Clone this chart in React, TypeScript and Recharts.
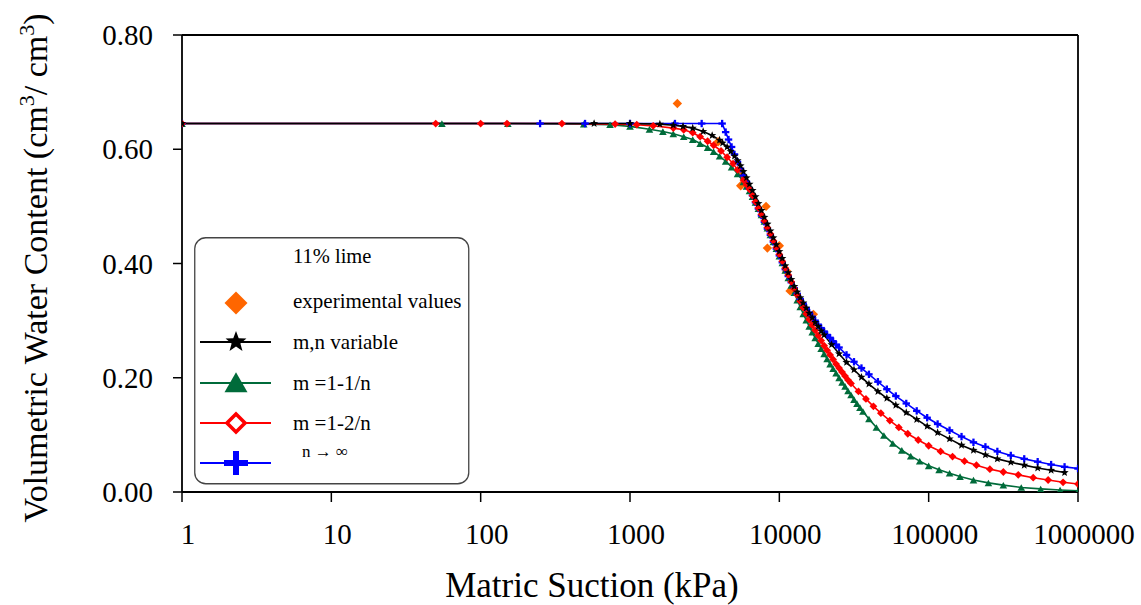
import React from 'react';
import { ComposedChart, Line, Scatter, XAxis, YAxis, ReferenceLine, Legend, Label } from 'recharts';

const FONT = '"Liberation Serif", "Times New Roman", Times, serif';

const suctionTicks = [1, 10, 100, 1000, 10000, 100000, 1000000];
const waterTicks = [0, 0.2, 0.4, 0.6, 0.8];

// measured points, 11% lime
const experimentalSuction = [2075, 3890, 5510, 5510, 8150, 8320, 10000, 11200, 11800, 16900];
const experimentalTheta = [0.68, 0.613, 0.562, 0.536, 0.5, 0.427, 0.431, 0.387, 0.352, 0.311];

// fit with m and n both free
const mnVariableSuction = [1, 575, 1000, 1585, 1950, 2265, 2630, 3090, 3550, 3980, 4170, 4470, 4730, 5010, 5250, 5500, 5750, 6030, 6310, 6610, 6920, 7240, 7590, 7940, 8320, 8710, 9120, 9550, 10000, 10470, 10960, 11480, 12020, 12590, 13180, 13800, 14450, 15140, 15850, 16600, 17380, 18200, 19050, 19950, 22390, 25120, 28180, 31620, 35480, 39810, 45710, 52480, 60260, 70790, 83180, 97720, 114800, 138000, 166000, 199500, 239900, 288400, 354800, 436500, 537000, 660700, 813000];
const mnVariableTheta = [0.645, 0.645, 0.645, 0.644, 0.642, 0.64, 0.637, 0.631, 0.624, 0.616, 0.611, 0.604, 0.596, 0.588, 0.58, 0.571, 0.561, 0.55, 0.539, 0.528, 0.517, 0.505, 0.493, 0.481, 0.469, 0.457, 0.445, 0.433, 0.421, 0.409, 0.396, 0.384, 0.372, 0.36, 0.35, 0.34, 0.331, 0.322, 0.313, 0.305, 0.297, 0.29, 0.282, 0.275, 0.258, 0.242, 0.227, 0.214, 0.201, 0.189, 0.176, 0.164, 0.152, 0.139, 0.127, 0.115, 0.104, 0.093, 0.082, 0.073, 0.065, 0.058, 0.052, 0.047, 0.042, 0.038, 0.034];

// m = 1 - 1/n
const mOneSuction = [1, 55, 152, 490, 735, 1000, 1350, 1660, 1950, 2290, 2630, 2950, 3310, 3630, 3980, 4370, 4790, 5250, 5750, 6030, 6310, 6610, 6920, 7240, 7590, 7940, 8320, 8710, 9120, 9550, 10000, 10470, 10960, 11480, 12020, 12590, 13180, 13800, 14450, 15140, 15850, 16600, 17380, 18200, 19050, 19950, 20890, 21880, 22910, 23990, 25120, 26300, 27540, 28840, 30200, 31620, 33110, 34670, 36310, 39810, 44670, 50120, 57540, 66070, 75860, 87100, 100000, 117500, 138000, 162200, 199500, 251200, 316200, 416900, 562300, 758600, 1000000];
const mOneTheta = [0.645, 0.645, 0.645, 0.644, 0.643, 0.64, 0.635, 0.631, 0.627, 0.622, 0.617, 0.61, 0.603, 0.596, 0.588, 0.579, 0.569, 0.557, 0.543, 0.535, 0.527, 0.517, 0.507, 0.496, 0.485, 0.474, 0.462, 0.45, 0.438, 0.426, 0.413, 0.401, 0.388, 0.375, 0.362, 0.349, 0.336, 0.324, 0.312, 0.301, 0.29, 0.28, 0.27, 0.26, 0.251, 0.242, 0.233, 0.224, 0.216, 0.208, 0.2, 0.192, 0.185, 0.177, 0.17, 0.162, 0.155, 0.148, 0.141, 0.128, 0.113, 0.099, 0.085, 0.073, 0.063, 0.054, 0.046, 0.039, 0.033, 0.027, 0.021, 0.016, 0.012, 0.008, 0.0055, 0.0035, 0.002];

// m = 1 - 2/n
const mTwoSuction = [1, 50, 100, 150, 350, 795, 1110, 1430, 1950, 2290, 2630, 2950, 3310, 3630, 4070, 4470, 4900, 5250, 5750, 6030, 6310, 6610, 6920, 7240, 7590, 7940, 8320, 8710, 9120, 9550, 10000, 10470, 10960, 11480, 12020, 12590, 13180, 13800, 14450, 15140, 15850, 16600, 17380, 18200, 19050, 19950, 20890, 21880, 22910, 23990, 25120, 26300, 27540, 28840, 30200, 33880, 38020, 42660, 47860, 54950, 63100, 72440, 85110, 100000, 120200, 144500, 173800, 208900, 257000, 316200, 398100, 501200, 631000, 794300, 1000000];
const mTwoTheta = [0.645, 0.645, 0.645, 0.645, 0.645, 0.644, 0.643, 0.641, 0.637, 0.634, 0.629, 0.622, 0.614, 0.607, 0.597, 0.586, 0.575, 0.564, 0.546, 0.538, 0.53, 0.519, 0.508, 0.497, 0.486, 0.475, 0.463, 0.452, 0.44, 0.428, 0.416, 0.404, 0.392, 0.38, 0.368, 0.356, 0.345, 0.334, 0.323, 0.312, 0.302, 0.292, 0.283, 0.274, 0.265, 0.256, 0.248, 0.24, 0.232, 0.224, 0.217, 0.21, 0.203, 0.196, 0.19, 0.176, 0.163, 0.15, 0.138, 0.125, 0.113, 0.102, 0.091, 0.081, 0.071, 0.062, 0.054, 0.047, 0.04, 0.035, 0.03, 0.025, 0.021, 0.017, 0.014];

// n -> infinity
const nInfSuction = [1, 250, 500, 1000, 2000, 3020, 4140, 4370, 4570, 4790, 5010, 5250, 5500, 5750, 6030, 6310, 6610, 6920, 7240, 7590, 7940, 8320, 8710, 9120, 9550, 10000, 10470, 10960, 11480, 12020, 12590, 13180, 13800, 14450, 15140, 15850, 16600, 17380, 18200, 19050, 19950, 20890, 21880, 22910, 23990, 25120, 28180, 31620, 35480, 39810, 45710, 52480, 60260, 70790, 83180, 97720, 114800, 138000, 166000, 199500, 239900, 288400, 354800, 436500, 537000, 660700, 813000, 1000000];
const nInfTheta = [0.645, 0.645, 0.645, 0.645, 0.645, 0.645, 0.645, 0.63, 0.617, 0.604, 0.591, 0.578, 0.566, 0.554, 0.543, 0.531, 0.519, 0.507, 0.496, 0.484, 0.473, 0.461, 0.45, 0.438, 0.426, 0.414, 0.402, 0.39, 0.378, 0.367, 0.357, 0.347, 0.338, 0.33, 0.322, 0.314, 0.307, 0.3, 0.293, 0.287, 0.281, 0.275, 0.27, 0.264, 0.258, 0.253, 0.24, 0.228, 0.217, 0.206, 0.193, 0.18, 0.168, 0.155, 0.142, 0.13, 0.119, 0.108, 0.097, 0.087, 0.079, 0.071, 0.064, 0.058, 0.053, 0.048, 0.044, 0.041];

const COLORS = {
  experimental: '#ff6600',
  mn: '#000000',
  mOne: '#006b3a',
  mTwo: '#ff0000',
  nInf: '#0000ff',
};

const pair = (s: number[], t: number[]) => s.map((v, i) => ({ s: v, theta: t[i] }));

const experimentalData = pair(experimentalSuction, experimentalTheta);
const mnData = pair(mnVariableSuction, mnVariableTheta);
const mOneData = pair(mOneSuction, mOneTheta);
const mTwoData = pair(mTwoSuction, mTwoTheta);
const nInfData = pair(nInfSuction, nInfTheta);

// marker shapes
function starPoints(cx: number, cy: number, R: number, r: number) {
  const pts: string[] = [];
  for (let i = 0; i < 10; i++) {
    const a = -Math.PI / 2 + (i * Math.PI) / 5;
    const rad = i % 2 === 0 ? R : r;
    pts.push(`${(cx + rad * Math.cos(a)).toFixed(2)},${(cy + rad * Math.sin(a)).toFixed(2)}`);
  }
  return pts.join(' ');
}

const StarMark = ({ cx, cy, R }: any) => <polygon points={starPoints(cx, cy, R, R * 0.42)} fill={COLORS.mn} />;

const TriangleMark = ({ cx, cy, s, fill }: any) => (
  <polygon points={`${cx - s},${cy + s * 0.9} ${cx + s},${cy + s * 0.9} ${cx},${cy - s * 0.85}`} fill={fill} />
);

const DiamondMark = ({ cx, cy, s, fill, stroke, strokeWidth }: any) => (
  <polygon
    points={`${cx},${cy - s} ${cx + s},${cy} ${cx},${cy + s} ${cx - s},${cy}`}
    fill={fill}
    stroke={stroke || 'none'}
    strokeWidth={strokeWidth || 0}
  />
);

const PlusMark = ({ cx, cy, s, w, fill }: any) => (
  <g fill={fill}>
    <rect x={cx - s} y={cy - w / 2} width={2 * s} height={w} />
    <rect x={cx - w / 2} y={cy - s} width={w} height={2 * s} />
  </g>
);

const starDot = (p: any) =>
  p.cx == null ? <g key={p.index} /> : <StarMark key={p.index} cx={p.cx} cy={p.cy} R={4.3} />;
const triangleDot = (p: any) =>
  p.cx == null ? <g key={p.index} /> : <TriangleMark key={p.index} cx={p.cx} cy={p.cy} s={3.8} fill={COLORS.mOne} />;
const diamondDot = (p: any) =>
  p.cx == null ? <g key={p.index} /> : <DiamondMark key={p.index} cx={p.cx} cy={p.cy} s={3.9} fill={COLORS.mTwo} />;
const plusDot = (p: any) =>
  p.cx == null ? <g key={p.index} /> : <PlusMark key={p.index} cx={p.cx} cy={p.cy} s={3.7} w={2.3} fill={COLORS.nInf} />;

const experimentalShape = (p: any) => <DiamondMark cx={p.cx} cy={p.cy} s={4.7} fill={COLORS.experimental} />;

const XTick = ({ x, y, payload }: any) => (
  <text x={x + 6} y={y + 40} textAnchor="middle" fontFamily={FONT} fontSize={29} fill="#000">
    {String(payload.value)}
  </text>
);

const YTick = ({ x, y, payload }: any) => (
  <text x={x} y={y + 10} textAnchor="end" fontFamily={FONT} fontSize={29} fill="#000">
    {Number(payload.value).toFixed(2)}
  </text>
);

const XTitle = () => (
  <text x={592} y={597} textAnchor="middle" fontFamily={FONT} fontSize={35} fill="#000">
    Matric Suction (kPa)
  </text>
);

const YTitle = () => (
  <text transform="translate(47, 268) rotate(-90)" textAnchor="middle" fontFamily={FONT} fontSize={34} fill="#000">
    Volumetric Water Content (cm
    <tspan dy={-13} fontSize={22}>3</tspan>
    <tspan dy={13}>/ cm</tspan>
    <tspan dy={-13} fontSize={22}>3</tspan>
    <tspan dy={13}>)</tspan>
  </text>
);

const legendRows = [
  { key: 'mn', label: 'm,n variable', y: 105 },
  { key: 'mOne', label: 'm =1-1/n', y: 146 },
  { key: 'mTwo', label: 'm =1-2/n', y: 186 },
  { key: 'nInf', label: 'n \u2192 \u221e', y: 226 },
];

const LegendBox = () => (
  <svg width={276} height={248} style={{ display: 'block' }}>
    <rect x={0.75} y={0.75} width={274} height={246} rx={11} ry={11} fill="#fff" stroke="#444" strokeWidth={1.3} />
    <text x={99} y={26} fontFamily={FONT} fontSize={20.5} fill="#000">11% lime</text>
    <DiamondMark cx={42} cy={66} s={11.5} fill={COLORS.experimental} />
    <text x={99} y={71} fontFamily={FONT} fontSize={21} fill="#000">experimental values</text>
    {legendRows.map((r) => {
      const color = (COLORS as any)[r.key];
      let mark: any = null;
      if (r.key === 'mn') mark = <StarMark cx={42} cy={r.y} R={11} />;
      if (r.key === 'mOne') mark = <TriangleMark cx={42} cy={r.y - 1} s={11.5} fill={color} />;
      if (r.key === 'mTwo') mark = <DiamondMark cx={42} cy={r.y} s={9} fill="#fff" stroke={color} strokeWidth={3.6} />;
      if (r.key === 'nInf') mark = <PlusMark cx={42} cy={r.y} s={12} w={6} fill={color} />;
      const isInf = r.key === 'nInf';
      return (
        <g key={r.key}>
          <line x1={6} x2={77} y1={r.y} y2={r.y} stroke={color} strokeWidth={1.8} />
          {mark}
          <text
            x={isInf ? 108 : 99}
            y={isInf ? r.y - 6 : r.y + 7}
            fontFamily={FONT}
            fontSize={isInf ? 17 : 21}
            fill="#000"
          >
            {r.label}
          </text>
        </g>
      );
    })}
  </svg>
);

export default function App() {
  return (
    <div style={{ position: 'absolute', left: 0, top: 0, width: 1141, height: 605, background: '#fff' }}>
      <ComposedChart width={1141} height={605} margin={{ top: 35, right: 63, left: 0, bottom: 0 }}>
        <XAxis
          dataKey="s"
          type="number"
          scale="log"
          domain={[1, 1000000]}
          ticks={suctionTicks}
          allowDataOverflow
          height={113}
          tickSize={10}
          tickLine={{ stroke: '#000', strokeWidth: 1.5 }}
          axisLine={{ stroke: '#000', strokeWidth: 1.8 }}
          tick={<XTick />}
          interval={0}
          label={<Label content={XTitle} />}
        />
        <YAxis
          type="number"
          domain={[0, 0.8]}
          ticks={waterTicks}
          allowDataOverflow
          width={182}
          tickSize={9}
          tickMargin={20}
          tickLine={{ stroke: '#000', strokeWidth: 1.5 }}
          axisLine={{ stroke: '#000', strokeWidth: 1.8 }}
          tick={<YTick />}
          interval={0}
          label={<Label content={YTitle} />}
        />
        <ReferenceLine y={0.8} stroke="#000" strokeWidth={1.8} />
        <ReferenceLine x={1000000} stroke="#000" strokeWidth={1.8} />
        <Line data={mOneData} dataKey="theta" stroke={COLORS.mOne} strokeWidth={1.6} dot={triangleDot} activeDot={false} isAnimationActive={false} />
        <Line data={nInfData} dataKey="theta" stroke={COLORS.nInf} strokeWidth={1.6} dot={plusDot} activeDot={false} isAnimationActive={false} />
        <Line data={mTwoData} dataKey="theta" stroke={COLORS.mTwo} strokeWidth={1.6} dot={diamondDot} activeDot={false} isAnimationActive={false} />
        <Line data={mnData} dataKey="theta" stroke={COLORS.mn} strokeWidth={1.6} dot={starDot} activeDot={false} isAnimationActive={false} />
        <Scatter data={experimentalData} dataKey="theta" fill={COLORS.experimental} shape={experimentalShape} isAnimationActive={false} />
        <Legend
          content={<LegendBox />}
          layout="horizontal"
          verticalAlign="middle"
          align="center"
          wrapperStyle={{ left: 194, top: 237, width: 276, height: 248 }}
        />
      </ComposedChart>
    </div>
  );
}
